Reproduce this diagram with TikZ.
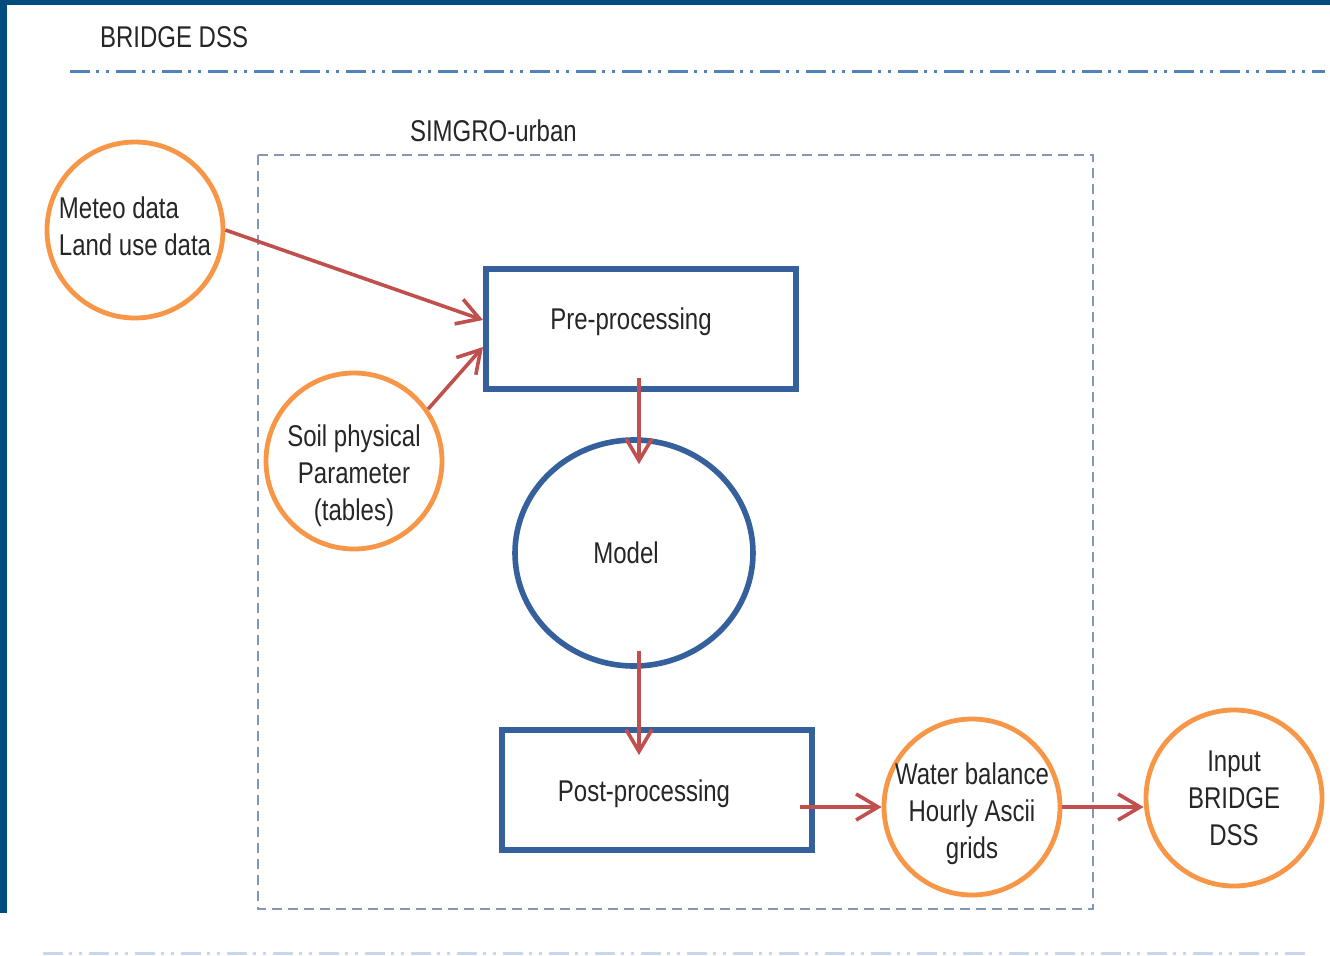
\documentclass[tikz,border=0pt]{standalone}
\usepackage{fontspec}
\setmainfont{Liberation Sans}[FakeStretch=0.8]
\usepackage{xcolor}
\usetikzlibrary{arrows.meta,positioning,shapes.geometric}
\definecolor{frame}{HTML}{004C7F}
\definecolor{lineblue}{HTML}{4F81BD}
\definecolor{faintblue}{HTML}{C9D7EC}
\definecolor{boxblue}{HTML}{35609C}
\definecolor{dataorange}{HTML}{F79646}
\definecolor{arrred}{HTML}{C0504D}
\definecolor{dashgrey}{HTML}{8497B7}
\tikzset{
  txt/.style={font=\fontsize{15}{18.5}\selectfont, text=black!85},
  procbox/.style={draw=boxblue, line width=3pt, minimum width=155pt, minimum height=60pt, inner sep=0pt},
  datacirc/.style={circle, draw=dataorange, line width=2.4pt, minimum size=88pt, inner sep=0pt, align=center, txt},
  modelcirc/.style={ellipse, draw=boxblue, line width=2.8pt, minimum width=119pt, minimum height=113pt, inner sep=0pt},
  sepline/.style={line width=1.5pt, dash pattern=on 10pt off 3pt on 1.5pt off 3.5pt on 1.5pt off 3.5pt},
  arr/.style={-{Straight Barb[length=11pt, width=13pt]}, line width=1.8pt, arrred}
}

\begin{document}
\begin{tikzpicture}[x=0.5pt, y=-0.5pt]
  \useasboundingbox (0,0) rectangle (1330,955);
  % screen frame
  \fill[frame] (0,0) rectangle (1330,5);
  \fill[frame] (0,0) rectangle (7,913);
  \node[txt, anchor=west] (title) at (93,37) {BRIDGE DSS};
  \draw[sepline, lineblue] (70,71) -- (1325,71);
  \draw[sepline, faintblue] (43,953) -- (1307,953);
  % SIMGRO-urban frame
  \draw[dashgrey, line width=1pt, dash pattern=on 5pt off 3pt] (258,155) rectangle (1093,909);
  \node[txt, anchor=west] (simgro) at (403,131) {SIMGRO-urban};
  % processing chain
  \node[procbox, label={[txt, xshift=-5pt, yshift=3.5pt]center:Pre-processing}] (pre) at (641,329) {};
  \node[modelcirc, label={[txt, xshift=-4pt]center:Model}] (model) at (634,553) {};
  \node[procbox, label={[txt, xshift=-6.5pt, yshift=-2pt]center:Post-processing}] (post) at (657,790) {};
  % data
  \node[datacirc, label={[txt, align=left, yshift=2pt]center:{Meteo data\\Land use data}}] (meteo) at (135,230) {};
  \node[datacirc, label={[txt, align=center, yshift=-7.5pt]center:{Soil physical\\Parameter\\(tables)}}] (soil) at (354,461) {};
  \node[datacirc, label={[txt, align=center, yshift=-3.5pt]center:{Water balance\\Hourly Ascii\\grids}}] (water) at (972,807) {};
  \node[datacirc] (input) at (1234,798) {Input\\BRIDGE\\DSS};
  % arrows
  \draw[arr] (meteo.east) -- ([yshift=4.5pt]pre.west);
  \draw[arr] (soil.35) -- ([yshift=-9pt]pre.west);
  \draw[arr] ([xshift=-1pt, yshift=7pt]pre.south) -- ([xshift=2.5pt, yshift=-13.5pt]model.north);
  \draw[arr] ([xshift=2.5pt, yshift=9pt]model.south) -- ([xshift=-9pt, yshift=-14pt]post.north);
  \draw[arr] ([xshift=-7.5pt, yshift=-8.5pt]post.east) -- (water.west);
  \draw[arr] (water.east) -- ([yshift=-4.5pt]input.west);
\end{tikzpicture}
\end{document}
